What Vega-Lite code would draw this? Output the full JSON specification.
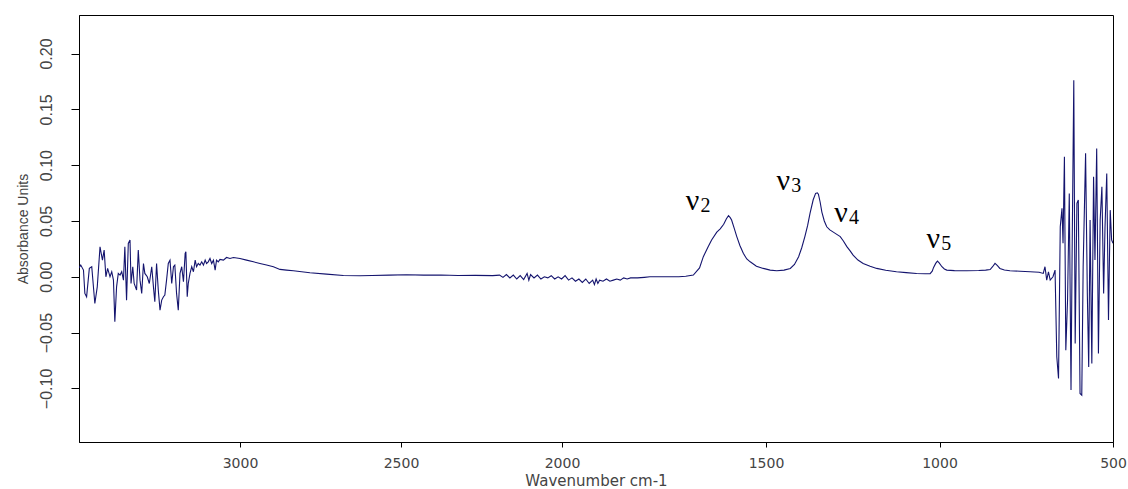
{
  "$schema": "https://vega.github.io/schema/vega-lite/v6.json",
  "width": 1034,
  "height": 427,
  "autosize": {"type": "none"},
  "padding": {"left": 79, "top": 15, "right": 15, "bottom": 47},
  "background": "white",
  "config": {
    "view": {"stroke": "#000000", "strokeWidth": 1},
    "axis": {"grid": false, "domainColor": "#000000", "tickColor": "#000000", "labelColor": "#444444", "titleColor": "#444444", "titleFontWeight": "normal", "labelOverlap": false, "labelBound": false, "labelFlush": false}
  },
  "datasets": {
    "spectrum": [
      {"wn": 3500, "a": 0.008}, {"wn": 3494.6, "a": 0.0105}, {"wn": 3486.1, "a": 0.006}, {"wn": 3481.8, "a": -0.0149}, {"wn": 3476.4, "a": -0.0179},
      {"wn": 3467.9, "a": 0.0075}, {"wn": 3460.4, "a": 0.009}, {"wn": 3450.8, "a": -0.0239}, {"wn": 3443.3, "a": -0.009}, {"wn": 3434.7, "a": 0.0269},
      {"wn": 3427.2, "a": 0.0149}, {"wn": 3421.9, "a": 0.0239}, {"wn": 3416.5, "a": 0}, {"wn": 3411.1, "a": 0.0075}, {"wn": 3403.7, "a": 0},
      {"wn": 3398.3, "a": 0.0045}, {"wn": 3393.0, "a": -0.003}, {"wn": 3388.7, "a": -0.0403}, {"wn": 3383.3, "a": -0.009}, {"wn": 3378.0, "a": 0.003},
      {"wn": 3372.6, "a": 0.0015}, {"wn": 3367.3, "a": 0.0045}, {"wn": 3361.9, "a": -0.003}, {"wn": 3357.6, "a": 0.0269}, {"wn": 3352.3, "a": -0.0209},
      {"wn": 3346.9, "a": 0.0299}, {"wn": 3341.6, "a": 0.0329}, {"wn": 3338.4, "a": -0.006}, {"wn": 3333.0, "a": 0.009}, {"wn": 3328.7, "a": -0.006},
      {"wn": 3321.2, "a": -0.0119}, {"wn": 3315.9, "a": 0.0239}, {"wn": 3310.5, "a": -0.003}, {"wn": 3305.2, "a": -0.0149}, {"wn": 3299.8, "a": 0.0119},
      {"wn": 3295.5, "a": 0.003}, {"wn": 3288.0, "a": 0}, {"wn": 3281.6, "a": -0.006}, {"wn": 3274.1, "a": 0.009}, {"wn": 3268.8, "a": -0.009},
      {"wn": 3264.5, "a": -0.0224}, {"wn": 3259.1, "a": 0.0119}, {"wn": 3253.8, "a": -0.0119}, {"wn": 3248.4, "a": -0.0299}, {"wn": 3243.1, "a": -0.0209},
      {"wn": 3237.7, "a": -0.0179}, {"wn": 3233.4, "a": -0.0164}, {"wn": 3228.1, "a": -0.003}, {"wn": 3222.7, "a": 0.0119}, {"wn": 3217.4, "a": 0.0149},
      {"wn": 3212.0, "a": -0.006}, {"wn": 3206.7, "a": 0.009}, {"wn": 3202.4, "a": 0.0105}, {"wn": 3197.0, "a": -0.0149}, {"wn": 3191.7, "a": -0.0299},
      {"wn": 3186.3, "a": 0.003}, {"wn": 3181.0, "a": 0.009}, {"wn": 3175.6, "a": -0.0045}, {"wn": 3170.3, "a": 0.0209}, {"wn": 3168.1, "a": 0.0224},
      {"wn": 3163.9, "a": -0.0179}, {"wn": 3160.7, "a": -0.006}, {"wn": 3155.3, "a": 0.003}, {"wn": 3149.9, "a": 0.009}, {"wn": 3144.6, "a": 0.0045},
      {"wn": 3139.2, "a": 0.0149}, {"wn": 3134.9, "a": 0.009}, {"wn": 3129.6, "a": 0.0119}, {"wn": 3124.3, "a": 0.0105}, {"wn": 3118.9, "a": 0.0134},
      {"wn": 3113.5, "a": 0.0105}, {"wn": 3108.2, "a": 0.0149}, {"wn": 3103.9, "a": 0.0119}, {"wn": 3098.6, "a": 0.0134}, {"wn": 3093.2, "a": 0.0164},
      {"wn": 3087.9, "a": 0.0119}, {"wn": 3082.5, "a": 0.0149}, {"wn": 3077.2, "a": 0.006}, {"wn": 3072.9, "a": 0.0149}, {"wn": 3067.5, "a": 0.0134},
      {"wn": 3062.2, "a": 0.0155}, {"wn": 3051.5, "a": 0.0149}, {"wn": 3041.8, "a": 0.0173}, {"wn": 3031.1, "a": 0.0164}, {"wn": 3020.4, "a": 0.0173},
      {"wn": 3000.1, "a": 0.0164}, {"wn": 2979.7, "a": 0.0149}, {"wn": 2958.3, "a": 0.0134}, {"wn": 2938.0, "a": 0.0119}, {"wn": 2917.6, "a": 0.0105},
      {"wn": 2896.2, "a": 0.009}, {"wn": 2875.9, "a": 0.0066}, {"wn": 2855.6, "a": 0.006}, {"wn": 2834.2, "a": 0.0054}, {"wn": 2782.8, "a": 0.0036},
      {"wn": 2731.4, "a": 0.0024}, {"wn": 2678.9, "a": 0.0012}, {"wn": 2627.5, "a": 0.0009}, {"wn": 2590.1, "a": 0.0012}, {"wn": 2536.6, "a": 0.0015},
      {"wn": 2483.0, "a": 0.0018}, {"wn": 2429.5, "a": 0.0015}, {"wn": 2376.0, "a": 0.0016}, {"wn": 2322.4, "a": 0.0012}, {"wn": 2268.9, "a": 0.0013},
      {"wn": 2215.4, "a": 0.001}, {"wn": 2194.0, "a": 0.0015}, {"wn": 2183.3, "a": -0.0005}, {"wn": 2172.6, "a": 0.002}, {"wn": 2161.9, "a": -0.001},
      {"wn": 2151.2, "a": 0.0015}, {"wn": 2140.5, "a": -0.002}, {"wn": 2129.8, "a": 0.001}, {"wn": 2119.1, "a": -0.0025}, {"wn": 2108.4, "a": 0.003},
      {"wn": 2103.0, "a": -0.003}, {"wn": 2097.6, "a": 0.002}, {"wn": 2086.9, "a": -0.001}, {"wn": 2076.2, "a": 0.0015}, {"wn": 2065.5, "a": -0.002},
      {"wn": 2054.8, "a": 0.0}, {"wn": 2044.1, "a": -0.001}, {"wn": 2033.4, "a": 0.001}, {"wn": 2022.7, "a": -0.002}, {"wn": 2012.0, "a": 0.0},
      {"wn": 2001.3, "a": -0.002}, {"wn": 1992.4, "a": 0.001}, {"wn": 1983.9, "a": -0.003}, {"wn": 1975.5, "a": -0.001}, {"wn": 1967.0, "a": -0.004},
      {"wn": 1958.6, "a": -0.002}, {"wn": 1950.2, "a": -0.005}, {"wn": 1941.7, "a": -0.002}, {"wn": 1933.3, "a": -0.006}, {"wn": 1924.8, "a": -0.003},
      {"wn": 1920.6, "a": -0.007}, {"wn": 1916.4, "a": -0.002}, {"wn": 1912.1, "a": -0.006}, {"wn": 1907.9, "a": -0.003}, {"wn": 1899.5, "a": -0.004},
      {"wn": 1891.0, "a": -0.002}, {"wn": 1882.6, "a": -0.004}, {"wn": 1874.1, "a": -0.003}, {"wn": 1865.7, "a": -0.002}, {"wn": 1857.2, "a": -0.003},
      {"wn": 1848.8, "a": -0.001}, {"wn": 1840.3, "a": -0.002}, {"wn": 1831.9, "a": -0.001}, {"wn": 1815.0, "a": -0.001}, {"wn": 1798.1, "a": -0.0005},
      {"wn": 1784.6, "a": 0.0}, {"wn": 1747.4, "a": 0.0}, {"wn": 1713.6, "a": 0.0}, {"wn": 1696.7, "a": 0.0005}, {"wn": 1678.1, "a": 0.0015},
      {"wn": 1662.9, "a": 0.008}, {"wn": 1653.6, "a": 0.018}, {"wn": 1641.8, "a": 0.027}, {"wn": 1633.3, "a": 0.033}, {"wn": 1620.6, "a": 0.04},
      {"wn": 1612.2, "a": 0.043}, {"wn": 1603.7, "a": 0.047}, {"wn": 1597.0, "a": 0.052}, {"wn": 1591.9, "a": 0.0547}, {"wn": 1587.7, "a": 0.053},
      {"wn": 1584.3, "a": 0.0508}, {"wn": 1578.4, "a": 0.044}, {"wn": 1571.6, "a": 0.036}, {"wn": 1564.0, "a": 0.028}, {"wn": 1555.6, "a": 0.021},
      {"wn": 1547.1, "a": 0.016}, {"wn": 1538.7, "a": 0.0134}, {"wn": 1523.5, "a": 0.0095}, {"wn": 1506.6, "a": 0.0075}, {"wn": 1488, "a": 0.006},
      {"wn": 1469, "a": 0.0054}, {"wn": 1448, "a": 0.006}, {"wn": 1430, "a": 0.0075}, {"wn": 1418, "a": 0.011}, {"wn": 1406, "a": 0.018},
      {"wn": 1397, "a": 0.026}, {"wn": 1388, "a": 0.036}, {"wn": 1380, "a": 0.046}, {"wn": 1373, "a": 0.057}, {"wn": 1364, "a": 0.069},
      {"wn": 1357, "a": 0.0747}, {"wn": 1352, "a": 0.0752}, {"wn": 1349, "a": 0.074}, {"wn": 1344, "a": 0.067}, {"wn": 1339, "a": 0.058},
      {"wn": 1332, "a": 0.05}, {"wn": 1325, "a": 0.0448}, {"wn": 1316, "a": 0.042}, {"wn": 1306, "a": 0.04}, {"wn": 1296, "a": 0.038},
      {"wn": 1286, "a": 0.036}, {"wn": 1277, "a": 0.032}, {"wn": 1267, "a": 0.027}, {"wn": 1257, "a": 0.023}, {"wn": 1249, "a": 0.0194},
      {"wn": 1235, "a": 0.015}, {"wn": 1220, "a": 0.012}, {"wn": 1200, "a": 0.0095}, {"wn": 1181, "a": 0.0075}, {"wn": 1155, "a": 0.0058},
      {"wn": 1124, "a": 0.0045}, {"wn": 1096, "a": 0.0037}, {"wn": 1066, "a": 0.003}, {"wn": 1041, "a": 0.0027}, {"wn": 1027, "a": 0.0028},
      {"wn": 1021, "a": 0.005}, {"wn": 1017, "a": 0.0084}, {"wn": 1011, "a": 0.012}, {"wn": 1006, "a": 0.014}, {"wn": 1001, "a": 0.0125},
      {"wn": 993, "a": 0.009}, {"wn": 986, "a": 0.007}, {"wn": 979, "a": 0.006}, {"wn": 957, "a": 0.0055}, {"wn": 922, "a": 0.0054},
      {"wn": 887, "a": 0.0056}, {"wn": 867, "a": 0.006}, {"wn": 854, "a": 0.0065}, {"wn": 847, "a": 0.009}, {"wn": 840, "a": 0.012},
      {"wn": 833, "a": 0.01}, {"wn": 826, "a": 0.0075}, {"wn": 813, "a": 0.006}, {"wn": 797, "a": 0.0054}, {"wn": 768, "a": 0.005},
      {"wn": 739, "a": 0.0045}, {"wn": 713, "a": 0.004}, {"wn": 701, "a": 0.003}, {"wn": 696, "a": 0.009}, {"wn": 691, "a": -0.003},
      {"wn": 686, "a": 0.0045}, {"wn": 681, "a": -0.003}, {"wn": 673, "a": 0.0}, {"wn": 667, "a": 0.006}, {"wn": 662, "a": -0.0717},
      {"wn": 657, "a": -0.091}, {"wn": 652, "a": 0.0448}, {"wn": 647, "a": 0.0613}, {"wn": 644, "a": 0.03}, {"wn": 640, "a": 0.1075},
      {"wn": 636, "a": -0.0657}, {"wn": 631, "a": -0.021}, {"wn": 626, "a": 0.0747}, {"wn": 621, "a": -0.1015}, {"wn": 618, "a": 0.015},
      {"wn": 613, "a": 0.176}, {"wn": 609, "a": -0.0597}, {"wn": 604, "a": 0.0658}, {"wn": 600, "a": 0.0687}, {"wn": 595, "a": -0.1045},
      {"wn": 590, "a": -0.106}, {"wn": 586, "a": 0.009}, {"wn": 579, "a": 0.1106}, {"wn": 574, "a": -0.015}, {"wn": 570, "a": -0.0807},
      {"wn": 566, "a": 0.0508}, {"wn": 561, "a": -0.0777}, {"wn": 556, "a": 0.0896}, {"wn": 552, "a": 0.015}, {"wn": 547, "a": 0.115},
      {"wn": 542, "a": -0.0687}, {"wn": 537, "a": 0.0508}, {"wn": 532, "a": 0.0806}, {"wn": 527, "a": -0.015}, {"wn": 523, "a": 0.0448},
      {"wn": 518, "a": 0.0926}, {"wn": 513, "a": -0.0388}, {"wn": 508, "a": 0.0597}, {"wn": 504, "a": 0.033}, {"wn": 500, "a": 0.03}
    ],
    "labels": [
      {"wn": 1680, "a": 0.0598, "sym": "ν", "sub": "2"},
      {"wn": 1450, "a": 0.0777, "sym": "ν", "sub": "3"},
      {"wn": 1284, "a": 0.0493, "sym": "ν", "sub": "4"},
      {"wn": 1018, "a": 0.026, "sym": "ν", "sub": "5"}
    ]
  },
  "encoding": {
    "x": {
      "field": "wn", "type": "quantitative",
      "scale": {"domain": [3500, 2000, 1500, 500], "range": [0, 483, 687, 1034], "nice": false, "zero": false},
      "axis": {
        "values": [3000, 2500, 2000, 1500, 1000, 500], "format": "d",
        "title": "Wavenumber cm-1",
        "labelFont": "DejaVu Sans", "labelFontSize": 14, "tickSize": 5, "labelPadding": 9,
        "titleFont": "DejaVu Sans", "titleFontSize": 15, "titlePadding": 3
      }
    },
    "y": {
      "field": "a", "type": "quantitative",
      "scale": {"domain": [-0.148, 0.2345], "nice": false, "zero": false},
      "axis": {
        "values": [-0.1, -0.05, 0, 0.05, 0.1, 0.15, 0.2], "format": ".2f",
        "title": "Absorbance Units",
        "labelAngle": 270, "labelAlign": "center", "labelBaseline": "bottom",
        "labelFont": "Liberation Sans Narrow, Liberation Sans, sans-serif", "labelFontSize": 16,
        "tickSize": 8, "labelPadding": 17,
        "titleFont": "Liberation Sans Narrow, Liberation Sans, sans-serif", "titleFontSize": 14, "titlePadding": 8
      }
    }
  },
  "layer": [
    {
      "data": {"name": "spectrum"},
      "mark": {"type": "line", "color": "#14146e", "strokeWidth": 1.1, "clip": true}
    },
    {
      "data": {"name": "labels"},
      "mark": {"type": "text", "font": "Liberation Serif", "fontSize": 30, "align": "center", "baseline": "alphabetic", "color": "#000000"},
      "encoding": {"text": {"field": "sym"}}
    },
    {
      "data": {"name": "labels"},
      "mark": {"type": "text", "font": "Liberation Serif", "fontSize": 20, "align": "left", "baseline": "alphabetic", "dx": 8, "dy": 2, "color": "#000000"},
      "encoding": {"text": {"field": "sub"}}
    }
  ]
}
